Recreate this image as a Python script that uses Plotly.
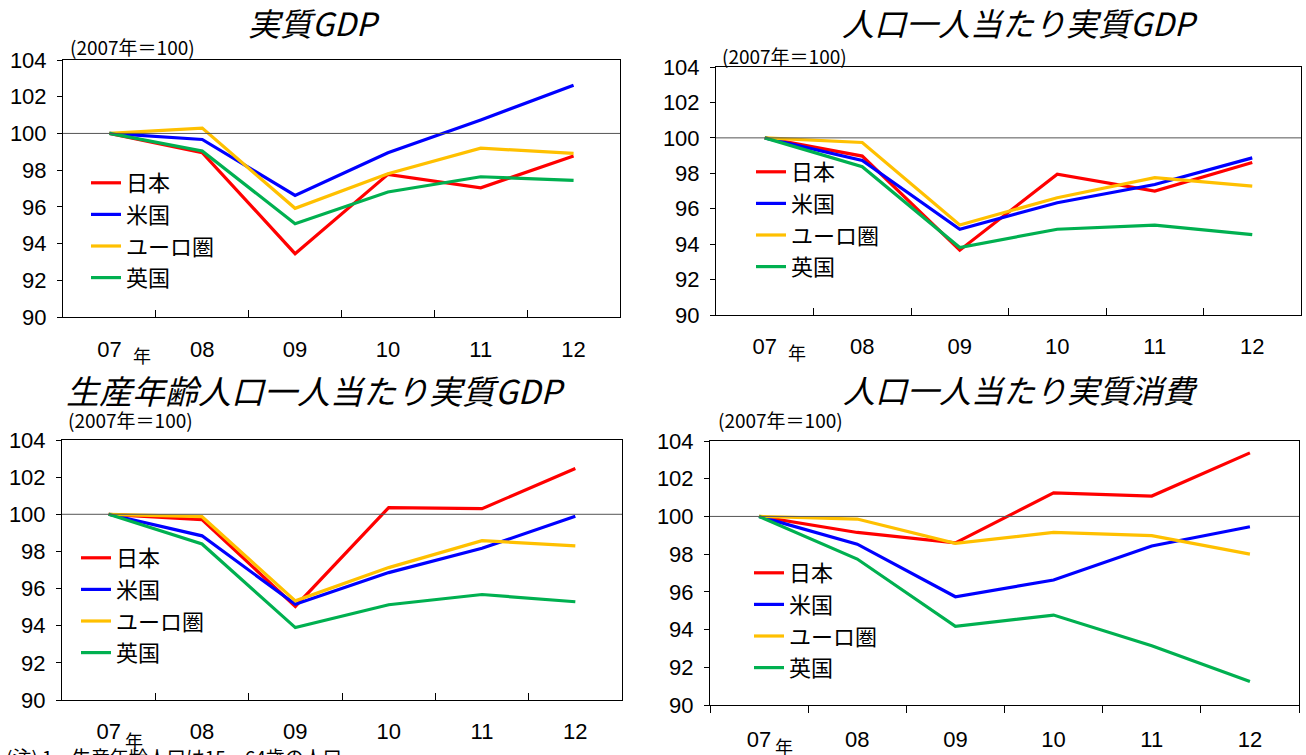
import plotly.graph_objects as go

W, H = 1306, 755

years = ["07", "08", "09", "10", "11", "12"]
countries = ["日本", "米国", "ユーロ圏", "英国"]
colors = ["#FF0000", "#0000FF", "#FFC000", "#00B050"]

# 実質GDP (2007=100)
gdp_japan = [100, 98.95, 93.45, 97.77, 97.04, 98.77]
gdp_us = [100, 99.67, 96.62, 98.95, 100.73, 102.63]
gdp_euro = [100, 100.29, 95.92, 97.80, 99.20, 98.91]
gdp_uk = [100, 99.04, 95.08, 96.81, 97.64, 97.44]

# 人口一人当たり実質GDP
pc_japan = [100, 98.97, 93.66, 97.95, 97.00, 98.61]
pc_us = [100, 98.72, 94.84, 96.34, 97.37, 98.87]
pc_euro = [100, 99.74, 95.08, 96.62, 97.75, 97.28]
pc_uk = [100, 98.37, 93.81, 94.84, 95.07, 94.54]

# 生産年齢人口一人当たり実質GDP
wa_japan = [100, 99.71, 95.04, 100.36, 100.30, 102.47]
wa_us = [100, 98.84, 95.16, 96.86, 98.17, 99.89]
wa_euro = [100, 99.87, 95.34, 97.13, 98.58, 98.30]
wa_uk = [100, 98.40, 93.90, 95.13, 95.68, 95.29]

# 人口一人当たり実質消費
cons_japan = [100, 99.15, 98.60, 101.25, 101.08, 103.37]
cons_us = [100, 98.53, 95.74, 96.63, 98.43, 99.45]
cons_euro = [100, 99.86, 98.57, 99.15, 98.98, 98.00]
cons_uk = [100, 97.74, 94.17, 94.77, 93.14, 91.24]

panels = [
    dict(title="実質GDP", series=[gdp_japan, gdp_us, gdp_euro, gdp_uk],
         box=(63, 620, 60, 317), title_pos=(314, 22, "center"), tsize=32,
         note_pos=(68, 46), legend_pos=(86, 162), ticks="inside",
         standoff=13, nen=(33, 355)),
    dict(title="人口一人当たり実質GDP", series=[pc_japan, pc_us, pc_euro, pc_uk],
         box=(716, 1301, 67, 315), title_pos=(1020, 22, "center"), tsize=32,
         note_pos=(720, 55), legend_pos=(751, 151), ticks="inside",
         standoff=12, nen=(32, 352)),
    dict(title="生産年齢人口一人当たり実質GDP", series=[wa_japan, wa_us, wa_euro, wa_uk],
         box=(62, 622, 440, 700), title_pos=(64, 390, "left"), tsize=33,
         note_pos=(66, 420), legend_pos=(76, 537), ticks="inside",
         standoff=12, nen=(25, 740)),
    dict(title="人口一人当たり実質消費", series=[cons_japan, cons_us, cons_euro, cons_uk],
         box=(710, 1299, 441, 705), title_pos=(1020, 389, "center"), tsize=32,
         note_pos=(716, 420), legend_pos=(749, 552), ticks="outside",
         standoff=15, nen=(25, 746)),
]

NUM = "Liberation Sans, Arial, sans-serif"
JP = "Noto Sans CJK JP, sans-serif"


def px(x):
    return x / W


def py(y):
    return 1 - y / H


fig = go.Figure()
annotations = []
shapes = []

for i, p in enumerate(panels):
    n = "" if i == 0 else str(i + 1)
    xa, ya = "x" + n, "y" + n
    lg = "legend" + n
    x0, x1, y0, y1 = p["box"]

    for name, vals, col in zip(countries, p["series"], colors):
        fig.add_trace(go.Scatter(
            x=years, y=vals, mode="lines", name=name,
            line=dict(color=col, width=3.2),
            xaxis=xa, yaxis=ya, legend=lg, hoverinfo="skip",
        ))

    fig.update_layout(**{
        "xaxis" + n: dict(
            domain=[px(x0), px(x1)], anchor=ya, type="category",
            categoryorder="array", categoryarray=years,
            range=[-0.5, 5.5], tickson="boundaries", ticks=p["ticks"],
            ticklen=7, tickcolor="black", showline=True, mirror=True,
            linecolor="black", linewidth=1, showgrid=False, zeroline=False,
            tickfont=dict(family=NUM, size=22, color="black"),
            ticklabelstandoff=p["standoff"], automargin=False,
        ),
        "yaxis" + n: dict(
            domain=[py(y1), py(y0)], anchor=xa, range=[90, 104], dtick=2,
            tick0=90, ticks="outside", ticklen=5, tickcolor="black",
            showline=True, mirror=True, linecolor="black", linewidth=1,
            showgrid=False, zeroline=False,
            tickfont=dict(family=NUM, size=22, color="black"),
            ticklabelstandoff=6, automargin=False,
        ),
        lg: dict(
            x=px(p["legend_pos"][0]), y=py(p["legend_pos"][1]),
            xanchor="left", yanchor="top", bgcolor="rgba(0,0,0,0)",
            font=dict(family=JP, size=22, color="black"),
            itemwidth=30, tracegroupgap=0,
        ),
    })

    # 基準線 (100)
    shapes.append(dict(type="line", xref=xa + " domain", x0=0, x1=1,
                       yref=ya, y0=100, y1=100,
                       line=dict(color="#555555", width=1)))

    tx, ty, anc = p["title_pos"]
    annotations.append(dict(
        text="<i>" + p["title"] + "</i>", x=px(tx), y=py(ty), xref="paper",
        yref="paper", xanchor=anc, yanchor="middle", showarrow=False,
        font=dict(family=JP, size=p["tsize"], color="black")))
    nx, ny = p["note_pos"]
    annotations.append(dict(
        text="(2007年＝100)", x=px(nx), y=py(ny), xref="paper", yref="paper",
        xanchor="left", yanchor="middle", showarrow=False,
        font=dict(family=JP, size=19, color="black")))
    sx, sy = p["nen"]
    annotations.append(dict(
        text="年", x=0, xref=xa, xshift=sx, y=py(sy), yref="paper",
        xanchor="center", yanchor="middle", showarrow=False,
        font=dict(family=JP, size=18, color="black")))

annotations.append(dict(
    text="(注) 1．生産年齢人口は15～64歳の人口", x=px(4), y=py(741),
    xref="paper", yref="paper", xanchor="left", yanchor="top",
    showarrow=False, font=dict(family=JP, size=19, color="black")))

fig.update_layout(
    width=W, height=H,
    margin=dict(l=0, r=0, t=0, b=0, pad=0, autoexpand=False),
    paper_bgcolor="white", plot_bgcolor="white",
    annotations=annotations, shapes=shapes, showlegend=True,
)

fig.write_html("out.html")
